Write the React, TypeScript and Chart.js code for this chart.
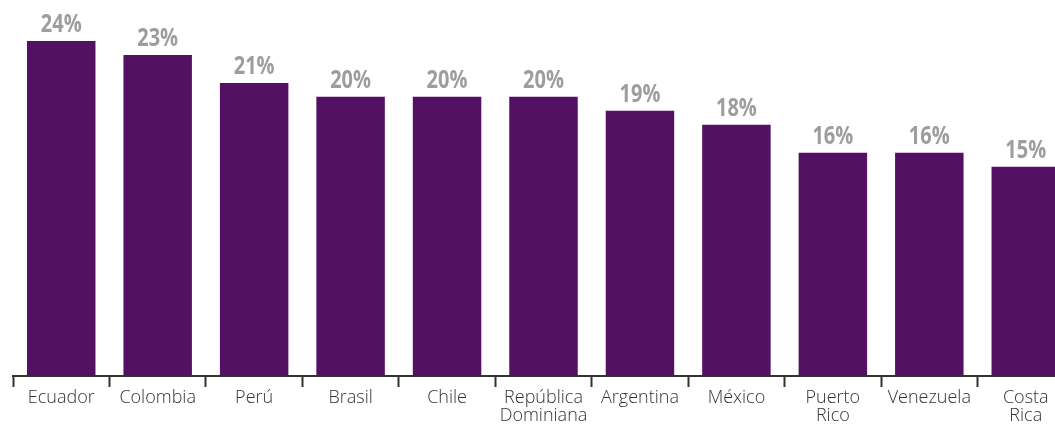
import React, { useEffect, useRef } from "react";
import { Chart, registerables } from "chart.js";

Chart.register(...registerables);

const categories: (string | string[])[] = [
  "Ecuador",
  "Colombia",
  "Perú",
  "Brasil",
  "Chile",
  ["República", "Dominiana"],
  "Argentina",
  "México",
  ["Puerto", "Rico"],
  "Venezuela",
  ["Costa", "Rica"],
];
const values: number[] = [24, 23, 21, 20, 20, 20, 19, 18, 16, 16, 15];
const valueLabels: string[] = values.map((v) => `${v}%`);

const labelPlugin = {
  id: "valueLabels",
  afterDatasetsDraw(chart: any) {
    const ctx = chart.ctx;
    const meta = chart.getDatasetMeta(0);
    meta.data.forEach((el: any, i: number) => {
      ctx.save();
      ctx.fillStyle = "#9d9d9f";
      ctx.font = "bold 25px 'Open Sans'";
      ctx.textAlign = "center";
      ctx.textBaseline = "alphabetic";
      ctx.translate(el.x, el.y - 9);
      ctx.scale(0.8, 1);
      ctx.fillText(valueLabels[i], 0, 0);
      ctx.restore();
    });
  },
};

export default function App() {
  const ref = useRef<HTMLCanvasElement | null>(null);
  useEffect(() => {
    if (!ref.current) return;
    const chart = new Chart(ref.current, {
      type: "bar",
      data: {
        labels: categories,
        datasets: [
          {
            data: values,
            backgroundColor: "#531164",
            barPercentage: 0.71,
            categoryPercentage: 1,
          },
        ],
      },
      options: {
        animation: false,
        responsive: false,
        layout: { padding: { top: 41, left: 13, right: 0, bottom: 0 } },
        plugins: { legend: { display: false }, tooltip: { enabled: false } },
        scales: {
          x: {
            offset: true,
            grid: {
              display: true,
              drawOnChartArea: false,
              offset: true,
              tickLength: 11,
              tickColor: "#333333",
              tickWidth: 2,
            },
            border: { display: true, color: "#333333", width: 2 },
            ticks: {
              color: "#333333",
              font: { family: "'Open Sans'", size: 18, weight: 300, lineHeight: 1.05 },
              padding: 1,
              maxRotation: 0,
              autoSkip: false,
            },
            afterFit: (scale: any) => {
              scale.height = 51;
            },
          },
          y: {
            display: false,
            min: 0,
            max: 24,
          },
        },
      },
      plugins: [labelPlugin],
    });
    return () => chart.destroy();
  }, []);
  return (
    <div style={{ position: "fixed", left: 0, top: 0, width: 1055, height: 427, overflow: "hidden", background: "#fff" }}>
      <canvas ref={ref} width={1074} height={427} style={{ display: "block" }} />
    </div>
  );
}
